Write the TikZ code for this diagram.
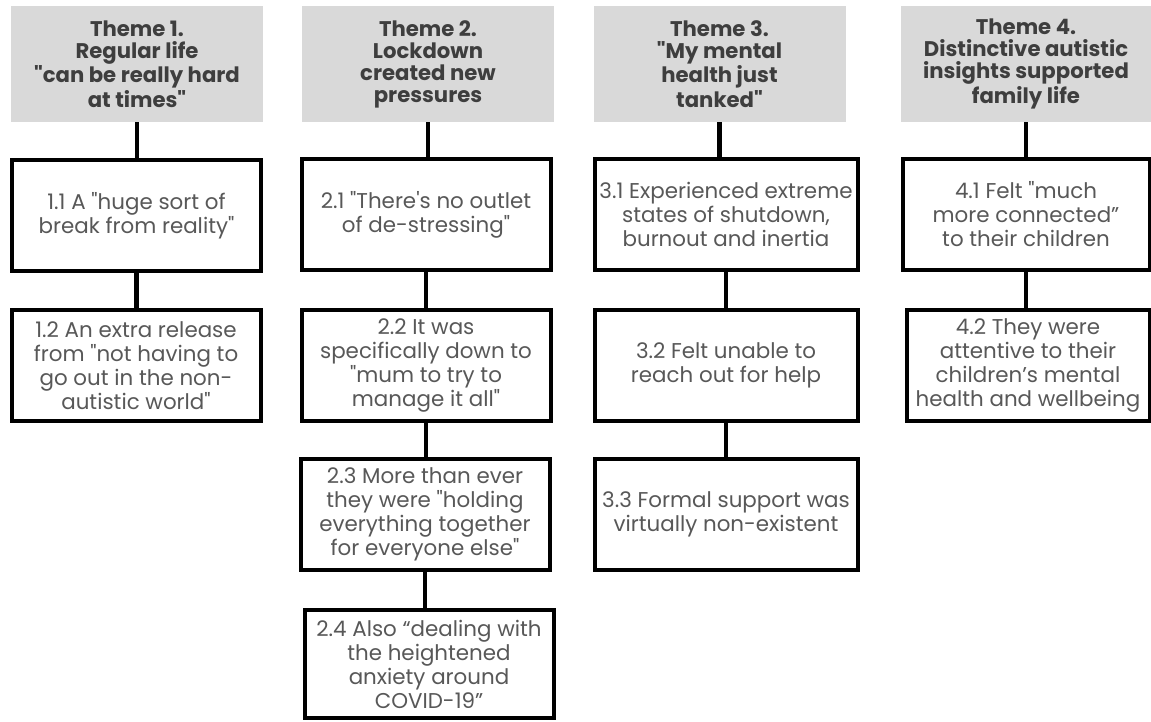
\documentclass[tikz,border=0pt]{standalone}
\usepackage{fontspec}
\setmainfont{Poppins}
\usepackage{tikz}
\usetikzlibrary{positioning}
\definecolor{themegray}{RGB}{217,217,217}
\definecolor{bodygray}{RGB}{88,88,88}
\definecolor{headgray}{RGB}{62,62,62}
\newcommand{\q}{\textquotedbl}

\begin{document}
\begin{tikzpicture}[
  x=0.5pt,y=-0.5pt,
  themebox/.style={fill=themegray, text=headgray, align=center, inner sep=0pt,
    font=\bfseries\fontsize{10.6}{11}\selectfont,
    minimum width=126pt, minimum height=58pt},
  subbox/.style={draw=black, line width=2pt, fill=white, text=bodygray,
    align=center, inner sep=0pt, font=\fontsize{10.7}{12}\selectfont,
    minimum width=124.5pt, minimum height=55.5pt},
  widebox/.style={subbox, minimum width=131.5pt},
  link/.style={black, line width=2.2pt}
]
\useasboundingbox (0,0) rectangle (1151,722);

% theme headers
\node[themebox] (t1) at (137,64)    {Theme 1.\\Regular life\\\q can be really hard\\at times\q};
\node[themebox] (t2) at (428,64)    {Theme 2.\\Lockdown\\created new\\pressures};
\node[themebox] (t3) at (719.5,64)  {Theme 3.\\\q My mental\\health just\\tanked\q};
\node[themebox, minimum width=125pt] (t4) at (1026,64) {Theme 4.\\Distinctive autistic\\insights supported\\family life};

% theme 1
\node[subbox] (s11) at (136.5,215.5) {1.1 A \q huge sort of\\break from reality\q};
\node[subbox] (s12) at (136,365.5)   {1.2 An extra release\\from \q not having to\\go out in the non-\\autistic world\q};

% theme 2
\node[subbox] (s21) at (426,214.5) {2.1 \q There\textquotesingle s no outlet\\of de-stressing\q};
\node[subbox] (s22) at (426,365.5) {2.2 It was\\specifically down to\\\q mum to try to\\manage it all\q};
\node[subbox] (s23) at (425,514.5) {2.3 More than ever\\they were \q holding\\everything together\\for everyone else\q};
\node[subbox, minimum height=54pt] (s24) at (429,664) {2.4 Also “dealing with\\the heightened\\anxiety around\\COVID-19”};

% theme 3
\node[widebox] (s31) at (726,214.5) {3.1 Experienced extreme\\states of shutdown,\\burnout and inertia};
\node[widebox] (s32) at (726,365.5) {3.2 Felt unable to\\reach out for help};
\node[widebox] (s33) at (726,514.5) {3.3 Formal support was\\virtually non-existent};

% theme 4
\node[subbox, minimum width=123.5pt] (s41) at (1026,214.5) {4.1 Felt \q much\\more connected”\\to their children};
\node[subbox, minimum width=121.5pt] (s42) at (1028,365)   {4.2 They were\\attentive to their\\children’s mental\\health and wellbeing};

% connectors
\draw[link] (t1.south) -- (t1.south |- s11.north);
\draw[link] (s11.south) -- (s11.south |- s12.north);
\draw[link] (t2.south) -- (t2.south |- s21.north);
\draw[link] (s21.south) -- (s21.south |- s22.north);
\draw[link] (s22.south) -- (s22.south |- s23.north);
\draw[link] (s23.south) -- (s23.south |- s24.north);
\draw[link] (t3.south) -- (t3.south |- s31.north);
\draw[link] (s31.south) -- (s31.south |- s32.north);
\draw[link] (s32.south) -- (s32.south |- s33.north);
\draw[link] (t4.south) -- (t4.south |- s41.north);
\draw[link] (s41.south) -- (s41.south |- s42.north);
\end{tikzpicture}
\end{document}
